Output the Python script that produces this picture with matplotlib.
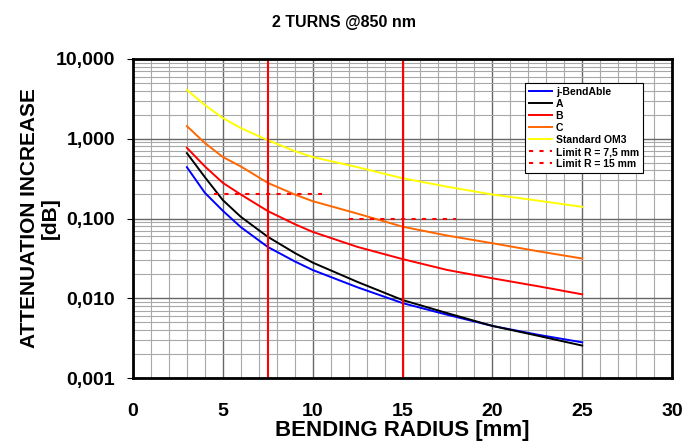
import matplotlib
matplotlib.use('Agg')
import matplotlib.pyplot as plt
from matplotlib.ticker import FixedLocator, FuncFormatter, LogLocator, NullFormatter

plt.rcParams['font.family'] = ['Liberation Sans', 'DejaVu Sans']

# bending radius [mm]
radius = [3, 4, 5, 6, 7.5, 9, 10, 12.5, 15, 17.5, 20, 22.5, 25]

# attenuation increase [dB], 2 turns @850 nm
jbend = [0.44, 0.21, 0.125, 0.078, 0.044, 0.029, 0.0226, 0.0137, 0.0087, 0.0062, 0.0045, 0.0035, 0.0028]
fib_a = [0.66, 0.33, 0.17, 0.105, 0.059, 0.037, 0.028, 0.016, 0.0095, 0.0065, 0.0045, 0.0034, 0.00255]
fib_b = [0.77, 0.45, 0.28, 0.20, 0.124, 0.085, 0.068, 0.044, 0.031, 0.0226, 0.0178, 0.0142, 0.0112]
fib_c = [1.44, 0.885, 0.59, 0.45, 0.28, 0.20, 0.165, 0.115, 0.079, 0.061, 0.049, 0.039, 0.0315]
om3 = [4.1, 2.65, 1.82, 1.36, 0.96, 0.70, 0.59, 0.44, 0.32, 0.25, 0.20, 0.168, 0.14]

# limits
limit_75_x = [4.5, 10.5]
limit_75_y = [0.2, 0.2]
limit_15_x = [12, 18]
limit_15_y = [0.1, 0.1]
vlines = [7.5, 15]

fig = plt.figure(figsize=(6.88, 4.43), dpi=100)
ax = fig.add_axes([133/688, 1 - 378/443, 539/688, 319/443])

ax.plot(radius, jbend, color='#0000ff', lw=1.4, label='j-BendAble')
ax.plot(radius, fib_a, color='black', lw=1.4, label='A')
ax.plot(radius, fib_b, color='#ff0000', lw=1.4, label='B')
ax.plot(radius, fib_c, color='#ff6600', lw=1.4, label='C')
ax.plot(radius, om3, color='#ffff00', lw=1.4, label='Standard OM3')
ax.plot(limit_75_x, limit_75_y, color='#ff0000', lw=1.5, ls=(0, (2, 3)), label='Limit R = 7,5 mm')
ax.plot(limit_15_x, limit_15_y, color='#ff0000', lw=1.5, ls=(0, (2, 3)), label='Limit R = 15 mm')
for v in vlines:
    ax.axvline(v, color='#ff0000', lw=1.5)

ax.set_yscale('log')
ax.set_ylim(0.001, 10)
ax.set_xlim(0, 30)

ax.xaxis.set_major_locator(FixedLocator([0, 5, 10, 15, 20, 25, 30]))
ax.xaxis.set_minor_locator(FixedLocator(range(0, 31)))
ax.yaxis.set_major_locator(LogLocator(base=10, numticks=10))
ax.yaxis.set_minor_locator(LogLocator(base=10, subs=range(2, 10), numticks=20))
ax.yaxis.set_minor_formatter(NullFormatter())
ax.yaxis.set_major_formatter(FuncFormatter(lambda v, p: f'{v:.3f}'.replace('.', ',')))

ax.grid(which='major', color='#666666', lw=1.0)
ax.grid(which='minor', color='#a8a8a8', lw=0.8)
ax.set_axisbelow(True)

ax.tick_params(axis='y', which='major', length=4, direction='out', labelsize=14, pad=9)
ax.tick_params(axis='y', which='minor', length=0)
ax.tick_params(axis='x', which='both', length=0, labelsize=14, pad=18)
for lab in ax.get_xticklabels() + ax.get_yticklabels():
    lab.set_fontweight('bold')

for s in ax.spines.values():
    s.set_linewidth(2)

ax.set_xlabel('BENDING RADIUS [mm]', fontsize=16, fontweight='bold')
ax.xaxis.set_label_coords(0.5, -0.132)
ax.set_ylabel('ATTENUATION INCREASE\n[dB]', fontsize=15, fontweight='bold', linespacing=1.15)
ax.yaxis.set_label_coords(-0.135, 0.5)
fig.text(0.5, 1 - 23/443, '2 TURNS @850 nm', ha='center', va='center', fontsize=11.5, fontweight='bold')

leg = ax.legend(loc='upper left', bbox_to_anchor=((525 - 133)/539, (378 - 83)/319),
                prop={'weight': 'bold', 'size': 7.5}, frameon=True, fancybox=False,
                edgecolor='black', framealpha=1, handlelength=2.2, handletextpad=0.4,
                labelspacing=0.2, borderpad=0.35, borderaxespad=0)
leg.get_frame().set_linewidth(0.8)

fig.savefig('out.png', dpi=100)
